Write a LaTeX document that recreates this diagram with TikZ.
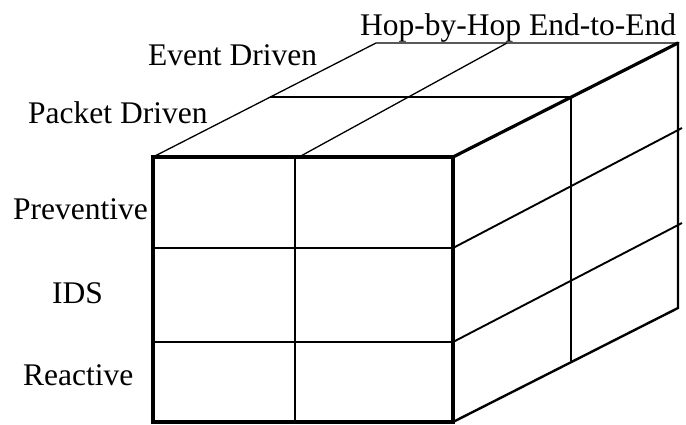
\documentclass[tikz,border=0pt]{standalone}
\usepackage{fontspec}
\setmainfont{Liberation Serif}
\begin{document}
\begin{tikzpicture}[x=1pt,y=-1pt,
  label/.style={anchor=base west,inner sep=0pt,font=\fontsize{31.5}{36}\selectfont},
  hairline/.style={line width=1.3pt},
  gridline/.style={line width=1.9pt},
  edge/.style={line width=3.2pt,line cap=round,line join=miter},
  sideedge/.style={line width=2.4pt}]
\useasboundingbox (0,0) rectangle (686,424);

% corners of the box
\coordinate (ftl) at (153,157);
\coordinate (ftr) at (453,157);
\coordinate (fbl) at (153,422);
\coordinate (fbr) at (453,422);
\coordinate (btl) at (376,43);
\coordinate (btr) at (678,43);
\coordinate (bbr) at (678,308);

% front face divisions
\coordinate (fmt) at (295,157);
\coordinate (fmb) at (295,422);
\coordinate (fr1l) at (153,248);
\coordinate (fr1r) at (453,248);
\coordinate (fr2l) at (153,342);
\coordinate (fr2r) at (453,342);

% top face divisions
\coordinate (tmf) at (299,157);
\coordinate (tmb) at (507,43);
\coordinate (tdl) at (270,97);
\coordinate (tdr) at (571,97);

% side face divisions
\coordinate (sdb) at (571,361);
\coordinate (sr1) at (682,128);
\coordinate (sr2) at (682,223);

% top face
\draw[hairline] (ftl) -- (btl) -- (btr);
\draw[hairline] (tdl) -- (tdr);
\draw[hairline] (tmf) -- (tmb);

% side face
\draw[gridline] (tdr) -- (sdb);
\draw[gridline] (fr1r) -- (sr1);
\draw[gridline] (fr2r) -- (sr2);
\draw[sideedge] (btr) -- (bbr) -- (fbr);

% front face grid
\draw[gridline] (fmt) -- (fmb);
\draw[gridline] (fr1l) -- (fr1r);
\draw[gridline] (fr2l) -- (fr2r);

% heavy outline
\draw[edge] (ftl) -- (ftr) -- (fbr) -- (fbl) -- cycle;
\draw[edge] (ftr) -- (btr);

% axis labels
\node[label] (hop) at (360,35) {Hop-by-Hop End-to-End};
\node[label] (event) at (148,65) {Event Driven};
\node[label] (packet) at (28,123) {Packet Driven};
\node[label] (prev) at (13,219) {Preventive};
\node[label] (ids) at (52,303) {IDS};
\node[label] (react) at (23,385) {Reactive};
\end{tikzpicture}
\end{document}
